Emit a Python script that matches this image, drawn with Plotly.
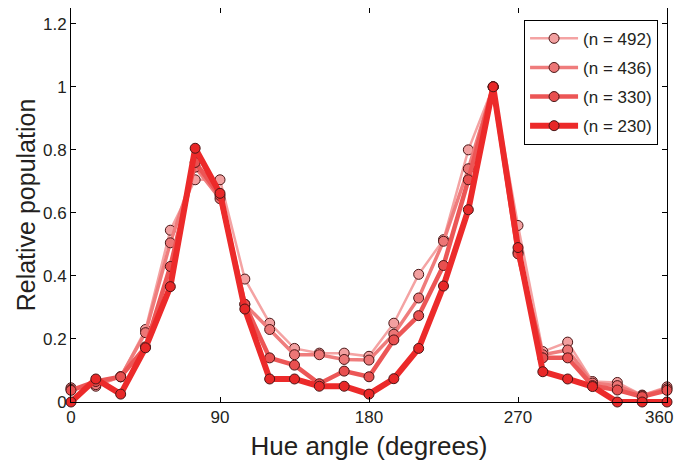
import plotly.graph_objects as go

hue_angles = [0, 15, 30, 45, 60, 75, 90, 105, 120, 135, 150, 165, 180,
              195, 210, 225, 240, 255, 270, 285, 300, 315, 330, 345, 360]

pop_n492 = [0.045, 0.050, 0.080, 0.230, 0.545, 0.705, 0.705, 0.390, 0.250, 0.170,
            0.155, 0.155, 0.145, 0.250, 0.405, 0.515, 0.800, 1.000, 0.560, 0.160,
            0.190, 0.065, 0.062, 0.022, 0.048]
pop_n436 = [0.040, 0.055, 0.080, 0.220, 0.505, 0.745, 0.645, 0.310, 0.230, 0.150,
            0.150, 0.135, 0.133, 0.215, 0.330, 0.510, 0.740, 1.000, 0.475, 0.150,
            0.165, 0.060, 0.052, 0.020, 0.042]
pop_n330 = [0.037, 0.065, 0.080, 0.175, 0.430, 0.760, 0.655, 0.310, 0.140, 0.117,
            0.058, 0.098, 0.080, 0.197, 0.274, 0.433, 0.705, 1.000, 0.470, 0.140,
            0.140, 0.052, 0.038, 0.017, 0.037]
pop_n230 = [0.000, 0.073, 0.025, 0.172, 0.366, 0.805, 0.662, 0.295, 0.073, 0.073,
            0.050, 0.050, 0.025, 0.074, 0.170, 0.368, 0.610, 1.000, 0.490, 0.096,
            0.073, 0.049, 0.000, 0.000, 0.000]

series_names = ["(n = 492)", "(n = 436)", "(n = 330)", "(n = 230)"]
series_values = [pop_n492, pop_n436, pop_n330, pop_n230]
line_colors = ["#F4A3A3", "#EF7C7C", "#EC5656", "#EC2A2A"]
marker_colors = ["#F2A0A0", "#EC7676", "#E85050", "#E82828"]
line_widths = [2.5, 3.5, 4.5, 6]

x_ticks = [0, 90, 180, 270, 360]
x_tick_labels = ["0", "90", "180", "270", ""]
last_x_label = "360"
y_ticks = [0, 0.2, 0.4, 0.6, 0.8, 1, 1.2]

fig = go.Figure()
for i, (name, vals) in enumerate(zip(series_names, series_values)):
    fig.add_trace(go.Scatter(
        x=hue_angles, y=vals, name=name, mode="lines+markers",
        legendgroup=f"g{i}",
        line=dict(color=line_colors[i], width=line_widths[i]),
        marker=dict(size=10, color=marker_colors[i],
                    line=dict(color="#4a1616", width=1)),
        cliponaxis=False,
    ))

font_family = "Liberation Sans, Arial, sans-serif"
fig.add_annotation(
    x=x_ticks[-1], xref="x", y=0, yref="paper",
    xanchor="right", yanchor="top", xshift=8, yshift=-4,
    text=last_x_label, showarrow=False,
    font=dict(size=17, family=font_family, color="#231f20"),
)
fig.update_layout(
    width=675, height=453,
    margin=dict(l=63, r=16, t=0, b=59, autoexpand=False),
    paper_bgcolor="white", plot_bgcolor="white",
    font=dict(family=font_family, color="#231f20", size=17),
    showlegend=True,
    legend=dict(
        x=0.985, y=0.97, xanchor="right", yanchor="top",
        bordercolor="black", borderwidth=1, bgcolor="white",
        font=dict(size=17, family=font_family),
        tracegroupgap=4, itemwidth=48,
    ),
    xaxis=dict(
        range=[0, 360], tickvals=x_ticks, ticktext=x_tick_labels,
        ticks="inside", ticklen=5,
        tickcolor="black", showline=True, linecolor="black", linewidth=1,
        mirror="ticks", showgrid=False, zeroline=False, automargin=False,
        tickfont=dict(size=17),
        title=dict(text="Hue angle (degrees)", font=dict(size=26), standoff=10),
    ),
    yaxis=dict(
        range=[0, 1.25], tickvals=y_ticks, ticks="inside", ticklen=5,
        tickcolor="black", showline=True, linecolor="black", linewidth=1,
        mirror="ticks", showgrid=False, zeroline=False, automargin=False,
        tickfont=dict(size=17),
        title=dict(text="Relative population", font=dict(size=25), standoff=0),
    ),
)

fig.write_html("out.html")
